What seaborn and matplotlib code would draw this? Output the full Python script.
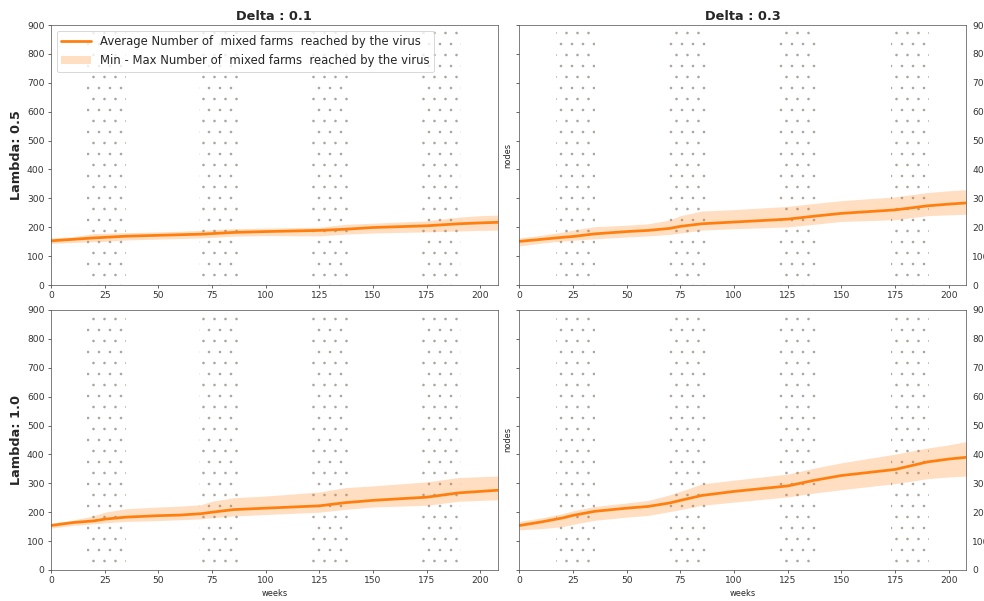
import matplotlib
matplotlib.use("Agg")
import matplotlib.pyplot as plt
import seaborn as sns

weeks = [0, 10, 20, 25, 35, 50, 60, 70, 75, 85, 100, 125, 137, 150, 175, 190, 200, 208]

# Lambda 0.5 / Delta 0.1
tl_mean = [153, 158, 163, 165, 169, 172, 174, 176, 178, 182, 185, 189, 193, 199, 205, 212, 215, 217]
tl_max = [163, 167, 178, 179, 181, 184, 186, 189, 191, 195, 197, 200, 210, 214, 222, 235, 240, 242]
tl_min = [144, 147, 150, 151, 156, 159, 161, 163, 165, 169, 171, 170, 176, 180, 184, 187, 189, 190]

# Lambda 0.5 / Delta 0.3
tr_mean = [151, 158, 165, 168, 177, 185, 189, 196, 203, 212, 218, 228, 238, 248, 260, 274, 280, 284]
tr_max = [163, 172, 183, 190, 202, 207, 212, 225, 240, 256, 261, 272, 282, 292, 305, 320, 326, 330]
tr_min = [135, 145, 152, 155, 160, 166, 170, 175, 180, 190, 195, 201, 210, 220, 226, 240, 243, 245]

# Lambda 1.0 / Delta 0.1
bl_mean = [154, 164, 170, 176, 183, 188, 190, 195, 200, 209, 214, 222, 233, 241, 252, 267, 272, 276]
bl_max = [162, 172, 188, 200, 212, 218, 221, 226, 238, 250, 256, 270, 285, 291, 305, 320, 323, 325]
bl_min = [145, 154, 160, 163, 168, 171, 174, 177, 181, 187, 192, 200, 210, 218, 224, 238, 241, 243]

# Lambda 1.0 / Delta 0.3
br_mean = [154, 166, 180, 189, 203, 214, 220, 232, 241, 258, 272, 291, 310, 327, 348, 374, 384, 390]
br_max = [168, 180, 195, 205, 220, 232, 241, 260, 272, 298, 311, 332, 352, 371, 401, 422, 433, 444]
br_min = [139, 143, 150, 158, 172, 183, 189, 202, 209, 224, 235, 253, 266, 278, 299, 316, 322, 325]

seasons = [(17, 35), (69, 87), (121, 139), (173, 191)]
deltas = ["0.1", "0.3"]
lambdas = ["0.5", "1.0"]

panels = [
    [(tl_mean, tl_min, tl_max), (tr_mean, tr_min, tr_max)],
    [(bl_mean, bl_min, bl_max), (br_mean, br_min, br_max)],
]

sns.set_style("ticks")
plt.rcParams["hatch.color"] = "#8c8279"
plt.rcParams["hatch.linewidth"] = 0.35

fig, axes = plt.subplots(2, 2, figsize=(984 / 66, 601 / 66), dpi=66)
fig.subplots_adjust(left=0.0518, right=0.9817, bottom=0.0516, top=0.9584,
                    wspace=0.049, hspace=0.096)

orange = "#ff7f0e"
for i in range(2):
    for j in range(2):
        ax = axes[i, j]
        mean, lo, hi = panels[i][j]
        for s0, s1 in seasons:
            ax.axvspan(s0, s1, facecolor="none", edgecolor="#8c8279",
                       hatch=".", linewidth=0, alpha=0.7)
        ax.fill_between(weeks, lo, hi, color=orange, alpha=0.25, linewidth=0,
                        label="Min - Max Number of  mixed farms  reached by the virus")
        sns.lineplot(x=weeks, y=mean, ax=ax, color=orange, linewidth=3,
                     label="Average Number of  mixed farms  reached by the virus")
        ax.set_xlim(0, 208)
        ax.set_ylim(0, 900)
        ax.set_xticks(range(0, 201, 25))
        ax.set_yticks(range(0, 901, 100))
        ax.tick_params(labelsize=10, colors="#333333")
        for sp in ax.spines.values():
            sp.set_color("#555555")
        if i == 0:
            ax.set_title(f"Delta : {deltas[j]}", fontsize=14, fontweight="bold")
        if i == 1:
            ax.set_xlabel("weeks", fontsize=9)
        if j == 0:
            ax.set_ylabel(f"Lambda: {lambdas[i]}", fontsize=14, fontweight="bold")
        else:
            ax.set_ylabel("nodes", fontsize=9)
            ax.tick_params(axis="y", left=True, right=False,
                           labelleft=False, labelright=True)
        if i == 0 and j == 0:
            h, l = ax.get_legend_handles_labels()
            ax.legend(h[::-1], l[::-1], loc="upper left", fontsize=12.7,
                      handlelength=2.5)
        else:
            leg = ax.get_legend()
            if leg is not None:
                leg.remove()

fig.savefig("out.png", dpi=66)
